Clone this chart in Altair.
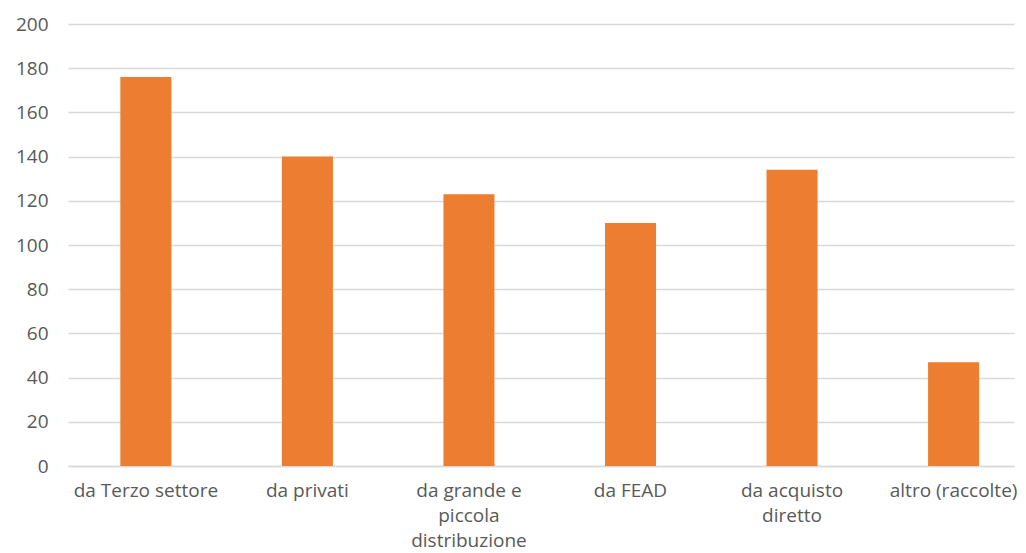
import altair as alt
import pandas as pd
import json

categories = ["da Terzo settore", "da privati", "da grande e piccola distribuzione",
              "da FEAD", "da acquisto diretto", "altro (raccolte)"]
values = [176, 140, 123, 110, 134, 47]
label_lines = [["da Terzo settore"], ["da privati"], ["da grande e", "piccola", "distribuzione"],
               ["da FEAD"], ["da acquisto", "diretto"], ["altro (raccolte)"]]
y_ticks = list(range(0, 201, 20))

df = pd.DataFrame({"cat": categories, "val": values})
lookup = json.dumps({c: l for c, l in zip(categories, label_lines)})
label_expr = f"{lookup}[datum.value]"

FONT = "Open Sans"
TXT = "#595959"

chart = alt.Chart(df).mark_bar(color="#ED7D31").encode(
    x=alt.X("cat:N", sort=categories, title=None,
            scale=alt.Scale(paddingInner=0.684, paddingOuter=0.27, align=0.6),
            axis=alt.Axis(labelAngle=0, labelExpr=label_expr, labelFont=FONT,
                          labelFontSize=19, labelColor=TXT, ticks=False,
                          domainColor="#D9D9D9", domainWidth=1.5, labelPadding=15,
                          labelLineHeight=25, labelLimit=300)),
    y=alt.Y("val:Q", title=None,
            scale=alt.Scale(domain=[0, 200], nice=False),
            axis=alt.Axis(values=y_ticks, labelFont=FONT, labelFontSize=19,
                          labelColor=TXT, ticks=False, domain=False,
                          gridColor="#D9D9D9", gridWidth=1.5, labelPadding=20)),
).properties(width=946, height=442).configure_view(stroke=None).properties(
    padding={"left": 7, "right": 0, "top": 7, "bottom": 0}
)

chart.save("out.html", embed_options={"renderer": "svg", "actions": False})
